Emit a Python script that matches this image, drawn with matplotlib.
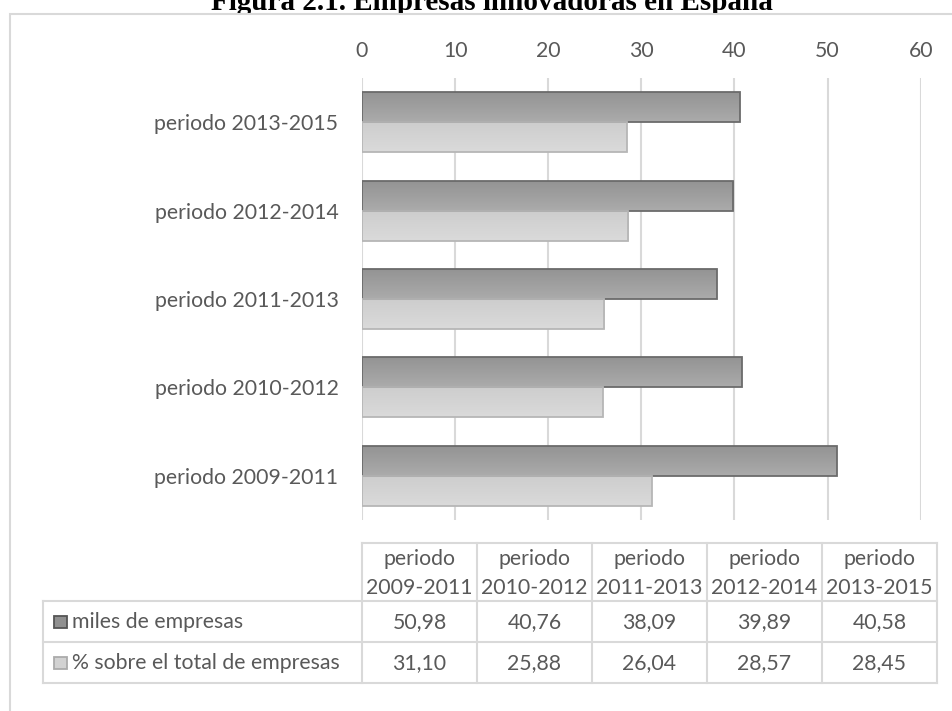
import matplotlib.pyplot as plt
from matplotlib.patches import Rectangle
import numpy as np

periodos = ['periodo 2009-2011', 'periodo 2010-2012', 'periodo 2011-2013',
            'periodo 2012-2014', 'periodo 2013-2015']
miles_empresas = [50.98, 40.76, 38.09, 39.89, 40.58]
pct_empresas = [31.10, 25.88, 26.04, 28.57, 28.45]
series = ['miles de empresas', '% sobre el total de empresas']
xticks = [0, 10, 20, 30, 40, 50, 60]
titulo = 'Figura 2.1. Empresas innovadoras en España'

W, H = 953, 711
plt.rcParams['font.family'] = ['Lato', 'DejaVu Sans']
gris = '#595959'
linea = '#d9d9d9'
fs = 15.3

fig = plt.figure(figsize=(W / 100, H / 100), dpi=100)

# capa en pixeles: titulo, marco y tabla de datos
bg = fig.add_axes([0, 0, 1, 1])
bg.set_xlim(0, W)
bg.set_ylim(H, 0)
bg.axis('off')

bg.text(492, 10, titulo, ha='center', va='baseline', fontsize=21,
        fontweight='bold', family=['Liberation Serif', 'DejaVu Serif'], zorder=1)
bg.add_patch(Rectangle((10, 14), W, H, facecolor='white', edgecolor=linea,
                       linewidth=1.5, zorder=2))

# grafico de barras
ax = fig.add_axes([362 / W, 1 - 520 / H, (920.7 - 362) / W, 442 / H])
ax.patch.set_alpha(0)
y = np.arange(len(periodos))
h = 0.34


def barras(pos, valores, c_arriba, c_abajo, borde):
    rects = ax.barh(pos, valores, height=h, color='none', edgecolor=borde,
                    linewidth=1.3, zorder=4)
    cmap = plt.matplotlib.colors.LinearSegmentedColormap.from_list('g', [c_arriba, c_abajo])
    grad = np.linspace(0, 1, 50).reshape(-1, 1)
    for r in rects:
        x0, y0 = r.get_x(), r.get_y()
        im = ax.imshow(grad, extent=[x0, x0 + r.get_width(), y0 + r.get_height(), y0],
                       cmap=cmap, aspect='auto', zorder=3, origin='upper')
        im.set_clip_path(r)
    return rects


barras(y + h / 2, miles_empresas, '#ababab', '#939393', '#6b6b6b')
barras(y - h / 2, pct_empresas, '#dadada', '#cdcdcd', '#b6b6b6')

ax.set_xlim(0, 60)
ax.set_ylim(-0.5, len(periodos) - 0.5)
ax.set_xticks(xticks)
ax.set_yticks(y)
ax.set_yticklabels(periodos)
ax.xaxis.tick_top()
ax.tick_params(axis='x', length=0, pad=12, labelsize=fs, labelcolor=gris)
ax.tick_params(axis='y', length=0, pad=17, labelsize=fs, labelcolor=gris)
ax.grid(axis='x', color=linea, linewidth=1.5, zorder=0)
ax.set_axisbelow(True)
for s in ax.spines.values():
    s.set_visible(False)

# tabla bajo el grafico
cols = [362, 477, 592, 707, 822, 937]
izq = 43
filas = [543, 601, 642, 683]
kw = dict(color=linea, linewidth=1.5, zorder=3)
bg.plot([cols[0], cols[-1]], [filas[0]] * 2, **kw)
for f in filas[1:]:
    bg.plot([izq, cols[-1]], [f, f], **kw)
bg.plot([izq, izq], [filas[1], filas[-1]], **kw)
for c in cols:
    bg.plot([c, c], [filas[0], filas[-1]], **kw)

for i, p in enumerate(periodos):
    cx = (cols[i] + cols[i + 1]) / 2
    a, b = p.split(' ')
    bg.text(cx, 559, a, ha='center', va='center', fontsize=fs, color=gris, zorder=4)
    bg.text(cx, 588, b, ha='center', va='center', fontsize=fs, color=gris, zorder=4)
    for valores, fy in ((miles_empresas, 622), (pct_empresas, 663)):
        bg.text(cx, fy, f'{valores[i]:.2f}'.replace('.', ','), ha='center',
                va='center', fontsize=fs, color=gris, zorder=4)

marcas = [('#909090', '#555555'), ('#d2d2d2', '#ababab')]
for (nombre, fy, (cara, borde)) in zip(series, (622, 663), marcas):
    bg.add_patch(Rectangle((54, fy - 6), 13, 12, facecolor=cara, edgecolor=borde,
                           linewidth=1.3, zorder=4))
    bg.text(72, fy, nombre, ha='left', va='center', fontsize=fs, color=gris, zorder=4)

fig.savefig('out.png', dpi=100)
